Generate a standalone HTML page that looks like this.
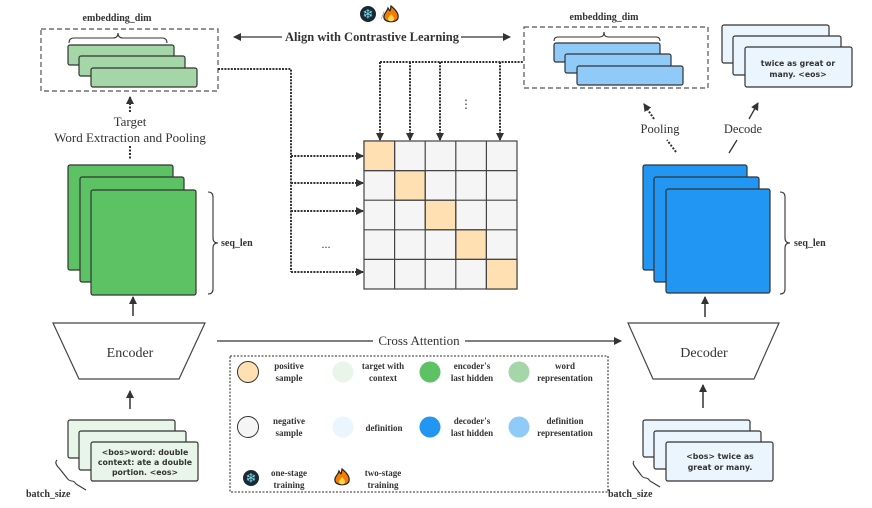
<!DOCTYPE html>
<html><head><meta charset="utf-8"><style>
html,body{margin:0;padding:0;background:#fff;}
svg{display:block;}
.s{font-family:"Liberation Serif",serif;}
.b{font-family:"DejaVu Sans","Liberation Sans",sans-serif;font-weight:bold;}
</style></head><body>
<svg width="872" height="508" viewBox="0 0 872 508" xmlns="http://www.w3.org/2000/svg">
<defs>
<marker id="ah" markerWidth="8" markerHeight="8" refX="7" refY="4" orient="auto" markerUnits="userSpaceOnUse"><path d="M0,0 L8,4 L0,8 z" fill="#333"/></marker>
<g id="snow"><circle r="8" fill="#1a2a33"/><text x="0" y="4.5" text-anchor="middle" font-size="13" fill="#7fdcf0" font-family="DejaVu Sans,sans-serif">❄</text></g>
<g id="fire"><path d="M0,-9 C5,-5 8,-1 7,3 C6,8 -6,8 -7,3 C-8,-1 -4,-3 -3,-7 C-1,-4 -1,-2 0,-9z" fill="#f57c00" stroke="#222" stroke-width="1.2"/><path d="M0,-1 C3,2 4,4 2,6 C0,7 -3,6 -3,4 C-3,2 -1,1 0,-1z" fill="#ffd54f"/></g>
</defs>

<text x="117" y="21" class="s" font-size="10" font-weight="bold" text-anchor="middle" fill="#333">embedding_dim</text>
<text x="604" y="20" class="s" font-size="10" font-weight="bold" text-anchor="middle" fill="#333">embedding_dim</text>

<rect x="41" y="29" width="177" height="62" fill="none" stroke="#555" stroke-dasharray="5,3" stroke-width="1.2"/>
<path d="M69,43 q0,-5 5,-5 h39 q5,0 5,-5 q0,5 5,5 h39 q5,0 5,5" fill="none" stroke="#333" stroke-width="1.1"/>
<rect x="68" y="45" width="106" height="20" rx="2" fill="#a5d6a7" stroke="#333" stroke-width="1.2"/>
<rect x="79" y="56" width="106" height="20" rx="2" fill="#a5d6a7" stroke="#333" stroke-width="1.2"/>
<rect x="91" y="68" width="106" height="19" rx="2" fill="#a5d6a7" stroke="#333" stroke-width="1.2"/>

<line x1="130" y1="112" x2="130" y2="97" stroke="#333" stroke-width="2" stroke-dasharray="2,1.5" marker-end="url(#ah)"/>
<text x="130" y="126" class="s" font-size="13" text-anchor="middle" fill="#333">Target</text>
<text x="130" y="142" class="s" font-size="13" text-anchor="middle" fill="#333">Word Extraction and Pooling</text>
<line x1="130" y1="146" x2="130" y2="160" stroke="#333" stroke-width="2" stroke-dasharray="2,1.5"/>

<rect x="68" y="165" width="105" height="105" rx="2" fill="#5cc264" stroke="#333" stroke-width="1.2"/>
<rect x="80" y="177" width="104" height="105" rx="2" fill="#5cc264" stroke="#333" stroke-width="1.2"/>
<rect x="91" y="190" width="105" height="105" rx="2" fill="#5cc264" stroke="#333" stroke-width="1.2"/>
<path d="M208,192 q5,0 5,5 v41 q0,5 5,5 q-5,0 -5,5 v41 q0,5 -5,5" fill="none" stroke="#333" stroke-width="1.1"/>
<text x="221" y="246" class="s" font-size="10" font-weight="bold" fill="#333">seq_len</text>

<line x1="133" y1="316" x2="133" y2="297" stroke="#333" stroke-width="1.5" marker-end="url(#ah)"/>
<polygon points="53,323 205,323 179,379 79,379" fill="#fff" stroke="#444" stroke-width="1.2"/>
<text x="130" y="357" class="s" font-size="14" text-anchor="middle" fill="#333">Encoder</text>
<line x1="130" y1="409" x2="130" y2="391" stroke="#333" stroke-width="1.5" marker-end="url(#ah)"/>

<rect x="68" y="420" width="107" height="38" rx="2" fill="#e8f5e9" stroke="#333" stroke-width="1.2"/>
<rect x="79" y="431" width="107" height="39" rx="2" fill="#e8f5e9" stroke="#333" stroke-width="1.2"/>
<rect x="91" y="442" width="107" height="39" rx="2" fill="#e8f5e9" stroke="#333" stroke-width="1.2"/>
<g class="b" font-size="7.8" text-anchor="middle" fill="#333">
<text x="145" y="455">&lt;bos&gt;word: double</text>
<text x="145" y="465">context: ate a double</text>
<text x="145" y="475">portion. &lt;eos&gt;</text>
</g>
<path d="M57,460 q-3,3 2,8 l8,10 q2,3 5,3 q2,0 4,3 l10,6" fill="none" stroke="#333" stroke-width="1.1"/>
<text x="26" y="497" class="s" font-size="10" font-weight="bold" fill="#333">batch_size</text>

<use href="#snow" x="368" y="14"/>
<text x="381" y="19" class="s" font-size="12" fill="#888">/</text>
<use href="#fire" x="391" y="15"/>
<line x1="282" y1="37" x2="234" y2="37" stroke="#333" stroke-width="1.3" marker-end="url(#ah)"/>
<text x="372" y="41" class="s" font-size="12.5" font-weight="bold" text-anchor="middle" fill="#333">Align with Contrastive Learning</text>
<line x1="461" y1="37" x2="510" y2="37" stroke="#333" stroke-width="1.3" marker-end="url(#ah)"/>

<rect x="524" y="27" width="184" height="61" fill="none" stroke="#555" stroke-dasharray="5,3" stroke-width="1.2"/>
<path d="M554,41 q0,-4 4,-4 h42 q4,0 4,-5 q0,5 4,5 h48 q4,0 4,4" fill="none" stroke="#333" stroke-width="1.1"/>
<rect x="554" y="43" width="106" height="19" rx="2" fill="#90caf9" stroke="#333" stroke-width="1.2"/>
<rect x="565" y="54" width="106" height="19" rx="2" fill="#90caf9" stroke="#333" stroke-width="1.2"/>
<rect x="577" y="66" width="106" height="19" rx="2" fill="#90caf9" stroke="#333" stroke-width="1.2"/>

<rect x="722" y="25" width="107" height="38" rx="2" fill="#ebf5fe" stroke="#333" stroke-width="1.2"/>
<rect x="733" y="36" width="108" height="39" rx="2" fill="#ebf5fe" stroke="#333" stroke-width="1.2"/>
<rect x="745" y="47" width="107" height="40" rx="2" fill="#ebf5fe" stroke="#333" stroke-width="1.2"/>
<text x="798" y="66" class="b" font-size="7.8" text-anchor="middle" fill="#333">twice as great or</text>
<text x="798" y="77" class="b" font-size="7.8" text-anchor="middle" fill="#333">many. &lt;eos&gt;</text>

<text x="660" y="133" class="s" font-size="12.5" text-anchor="middle" fill="#333">Pooling</text>
<line x1="676" y1="152" x2="667" y2="140" stroke="#333" stroke-width="2" stroke-dasharray="2,1.5"/>
<line x1="654" y1="119" x2="644" y2="104" stroke="#333" stroke-width="2" stroke-dasharray="2,1.5" marker-end="url(#ah)"/>
<text x="743" y="133" class="s" font-size="12.5" text-anchor="middle" fill="#333">Decode</text>
<line x1="729" y1="153" x2="737" y2="140" stroke="#333" stroke-width="1.3"/>
<line x1="749" y1="119" x2="758" y2="103" stroke="#333" stroke-width="1.3" marker-end="url(#ah)"/>

<rect x="643" y="165" width="104" height="105" rx="2" fill="#2196f3" stroke="#333" stroke-width="1.2"/>
<rect x="654" y="177" width="105" height="105" rx="2" fill="#2196f3" stroke="#333" stroke-width="1.2"/>
<rect x="666" y="189" width="104" height="104" rx="2" fill="#2196f3" stroke="#333" stroke-width="1.2"/>
<path d="M780,192 q5,0 5,5 v41 q0,5 5,5 q-5,0 -5,5 v41 q0,5 -5,5" fill="none" stroke="#333" stroke-width="1.1"/>
<text x="794" y="246" class="s" font-size="10" font-weight="bold" fill="#333">seq_len</text>

<line x1="705" y1="317" x2="705" y2="297" stroke="#333" stroke-width="1.5" marker-end="url(#ah)"/>
<polygon points="628,323 779,323 754,379 653,379" fill="#fff" stroke="#444" stroke-width="1.2"/>
<text x="704" y="357" class="s" font-size="14" text-anchor="middle" fill="#333">Decoder</text>
<line x1="703" y1="408" x2="703" y2="385" stroke="#333" stroke-width="1.5" marker-end="url(#ah)"/>

<rect x="643" y="420" width="107" height="37" rx="2" fill="#ebf5fe" stroke="#333" stroke-width="1.2"/>
<rect x="654" y="431" width="107" height="38" rx="2" fill="#ebf5fe" stroke="#333" stroke-width="1.2"/>
<rect x="666" y="442" width="107" height="39" rx="2" fill="#ebf5fe" stroke="#333" stroke-width="1.2"/>
<text x="720" y="459" class="b" font-size="7.8" text-anchor="middle" fill="#333">&lt;bos&gt; twice as</text>
<text x="720" y="470" class="b" font-size="7.8" text-anchor="middle" fill="#333">great or many.</text>
<path d="M634,461 q-2,2 1,6 l6,8 q2,3 5,3 q2,0 4,3 l10,6" fill="none" stroke="#333" stroke-width="1.1"/>
<text x="608" y="497" class="s" font-size="10" font-weight="bold" fill="#333">batch_size</text>

<line x1="217" y1="341" x2="373" y2="341" stroke="#333" stroke-width="1.2"/>
<text x="419" y="345" class="s" font-size="13" text-anchor="middle" fill="#333">Cross Attention</text>
<line x1="465" y1="341" x2="621" y2="341" stroke="#333" stroke-width="1.2" marker-end="url(#ah)"/>

<g stroke="#333" stroke-width="2" stroke-dasharray="2,1.2" fill="none">
<polyline points="218,69 291,69 291,272"/>
<line x1="291" y1="156" x2="363" y2="156" marker-end="url(#ah)"/>
<line x1="291" y1="183" x2="363" y2="183" marker-end="url(#ah)"/>
<line x1="291" y1="211" x2="363" y2="211" marker-end="url(#ah)"/>
<line x1="291" y1="272" x2="363" y2="272" marker-end="url(#ah)"/>
<line x1="380" y1="62" x2="524" y2="62"/>
<line x1="380" y1="62" x2="380" y2="140" marker-end="url(#ah)"/>
<line x1="410" y1="62" x2="410" y2="140" marker-end="url(#ah)"/>
<line x1="440" y1="62" x2="440" y2="140" marker-end="url(#ah)"/>
<line x1="500" y1="62" x2="500" y2="140" marker-end="url(#ah)"/>
</g>
<text x="466" y="108" class="s" font-size="12" text-anchor="middle" fill="#333">⋮</text>
<text x="326" y="248" class="s" font-size="12" text-anchor="middle" fill="#333">...</text>

<g stroke="#444" stroke-width="1.2">
<rect x="364" y="141" width="153" height="148" fill="#f5f5f5"/>
<rect x="364" y="141" width="30.6" height="29.6" fill="#ffe0b2"/>
<rect x="394.6" y="170.6" width="30.6" height="29.6" fill="#ffe0b2"/>
<rect x="425.2" y="200.2" width="30.6" height="29.6" fill="#ffe0b2"/>
<rect x="455.8" y="229.8" width="30.6" height="29.6" fill="#ffe0b2"/>
<rect x="486.4" y="259.4" width="30.6" height="29.6" fill="#ffe0b2"/>
<line x1="394.6" y1="141" x2="394.6" y2="289"/><line x1="425.2" y1="141" x2="425.2" y2="289"/>
<line x1="455.8" y1="141" x2="455.8" y2="289"/><line x1="486.4" y1="141" x2="486.4" y2="289"/>
<line x1="364" y1="170.6" x2="517" y2="170.6"/><line x1="364" y1="200.2" x2="517" y2="200.2"/>
<line x1="364" y1="229.8" x2="517" y2="229.8"/><line x1="364" y1="259.4" x2="517" y2="259.4"/>
</g>

<rect x="230" y="356" width="378" height="136" fill="none" stroke="#555" stroke-width="1.3" stroke-dasharray="2,1.5"/>
<circle cx="248" cy="372" r="10.5" fill="#ffe0b2" stroke="#333"/>
<circle cx="343" cy="372" r="10.5" fill="#e8f5e9"/>
<circle cx="430" cy="372" r="10.5" fill="#5cc264"/>
<circle cx="519" cy="372" r="10.5" fill="#a5d6a7"/>
<circle cx="248" cy="427" r="10.5" fill="#f5f5f5" stroke="#333"/>
<circle cx="343" cy="427" r="10.5" fill="#ebf5fe"/>
<circle cx="430" cy="427" r="10.5" fill="#2196f3"/>
<circle cx="519" cy="427" r="10.5" fill="#90caf9"/>
<use href="#snow" x="251" y="478"/>
<use href="#fire" x="342" y="478"/>
<g class="s" font-size="9" font-weight="bold" text-anchor="middle" fill="#333">
<text x="289" y="369">positive</text><text x="289" y="381">sample</text>
<text x="383" y="369">target with</text><text x="383" y="381">context</text>
<text x="472" y="369">encoder's</text><text x="472" y="381">last hidden</text>
<text x="565" y="369">word</text><text x="565" y="381">representation</text>
<text x="289" y="424">negative</text><text x="289" y="436">sample</text>
<text x="384" y="431">definition</text>
<text x="472" y="424">decoder's</text><text x="472" y="436">last hidden</text>
<text x="565" y="424">definition</text><text x="565" y="436">representation</text>
<text x="289" y="476">one-stage</text><text x="289" y="488">training</text>
<text x="383" y="476">two-stage</text><text x="383" y="488">training</text>
</g>
</svg>
</body></html>
